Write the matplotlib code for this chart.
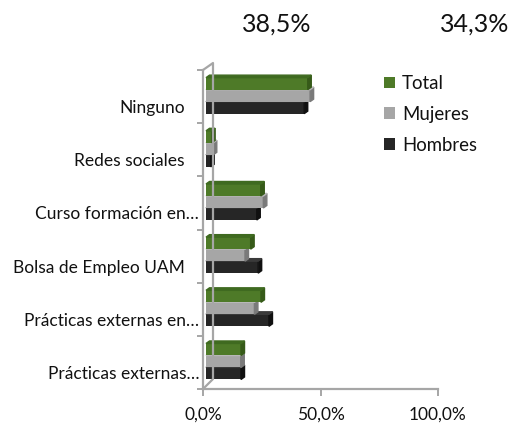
import numpy as np
import matplotlib
matplotlib.use("Agg")
import matplotlib.pyplot as plt
from matplotlib.patches import Polygon, Patch
from matplotlib.lines import Line2D
from matplotlib.transforms import ScaledTranslation

categories = ["Ninguno", "Redes sociales", "Curso formación en…", "Bolsa de Empleo UAM",
              "Prácticas externas en…", "Prácticas externas…"]
series = ["Total", "Mujeres", "Hombres"]
total = [43.3, 2.4, 23.3, 19.0, 23.4, 14.9]
mujeres = [44.3, 3.1, 24.4, 16.6, 20.6, 14.8]
hombres = [41.8, 2.0, 21.6, 22.2, 26.8, 14.9]
top_notes = ["38,5%", "34,3%"]
xticks = [0, 50, 100]

front = {"Total": "#4E7A28", "Mujeres": "#A6A6A6", "Hombres": "#262626"}
side = {"Total": "#365A19", "Mujeres": "#7A7A7A", "Hombres": "#101010"}
topc = {"Total": "#3F6A20", "Mujeres": "#B8B8B8", "Hombres": "#3A3A3A"}
axis_gray = "#A6A6A6"
text_col = "#111111"

plt.rcParams['font.family'] = ['Lato', 'DejaVu Sans']
W, H, DPI = 530, 430, 100
fig = plt.figure(figsize=(W / DPI, H / DPI), dpi=DPI)

# axes box in pixels (left, top, right, bottom)
L, T, R, B = 203, 70, 438, 389
ax = fig.add_axes([L / W, (H - B) / H, (R - L) / W, (B - T) / H])
ax.set_xlim(0, 100)
ax.set_ylim(len(categories) - 0.5, -0.5)

px_x = 100 / (R - L)
px_y = len(categories) / (B - T)
bar_h = 12 * px_y
off = ScaledTranslation(3 / DPI, 2 / DPI, fig.dpi_scale_trans)
dxd, dyd = 3.5 * px_x, 2.5 * px_y

y = np.arange(len(categories))
data = {"Total": total, "Mujeres": mujeres, "Hombres": hombres}
shift = {"Total": -bar_h, "Mujeres": 0.0, "Hombres": bar_h}

# draw lower series first so upper bars cover their top faces
for name in ["Hombres", "Mujeres", "Total"]:
    vals = data[name]
    cy = y + 0.02 + shift[name]
    ax.barh(cy, vals, height=bar_h, color=front[name], transform=ax.transData + off, zorder=3)
    for v, c in zip(vals, cy):
        t, b = c - bar_h / 2, c + bar_h / 2
        ax.add_patch(Polygon([(v, t), (v, b), (v + dxd, b - dyd), (v + dxd, t - dyd)],
                             closed=True, color=side[name], transform=ax.transData + off, zorder=3))
        ax.add_patch(Polygon([(0, t), (v, t), (v + dxd, t - dyd), (dxd, t - dyd)],
                             closed=True, color=topc[name], transform=ax.transData + off, zorder=3))

for s in ["top", "right"]:
    ax.spines[s].set_visible(False)
for s in ["left", "bottom"]:
    ax.spines[s].set_color(axis_gray)
    ax.spines[s].set_linewidth(1.6)

ax.set_yticks(np.arange(-0.5, len(categories), 1))
ax.set_yticklabels([])
ax.tick_params(axis="y", length=4, width=1.4, color=axis_gray)
ax.set_xticks(xticks)
ax.set_xticklabels([f"{v:.1f}%".replace(".", ",") for v in xticks], fontsize=12.5, color=text_col)
ax.tick_params(axis="x", length=5, width=1.4, color=axis_gray, pad=8)

# category labels
yt = ax.get_yaxis_transform()
for i, lab in enumerate(categories):
    xr = -4 if lab.endswith("…") else -18
    ax.text(xr / (R - L), i + 0.217, lab, transform=yt, ha="right", va="center",
            fontsize=12.5, color=text_col, clip_on=False)

# back wall lines (pseudo 3D)
def fx(px):
    return px / W

def fy(py):
    return (H - py) / H

fig.add_artist(Line2D([fx(L), fx(L + 10), fx(L + 10), fx(L)],
                      [fy(T), fy(T - 7), fy(B - 10), fy(B)],
                      color=axis_gray, lw=1.6, transform=fig.transFigure))

# legend
handles = [Patch(facecolor=front[n], edgecolor="none") for n in series]
fig.legend(handles, series, loc="upper left", bbox_to_anchor=(fx(384), fy(75)),
           frameon=False, fontsize=13.4, handlelength=0.6, handleheight=0.6,
           handletextpad=0.36, labelspacing=0.74, borderaxespad=0, borderpad=0,
           labelcolor=text_col)

# stray data labels at top
for xp, txt in zip([277, 475], top_notes):
    fig.text(fx(xp), fy(24), txt, ha="center", va="center", fontsize=18, color=text_col)

fig.savefig("out.png", dpi=DPI)
